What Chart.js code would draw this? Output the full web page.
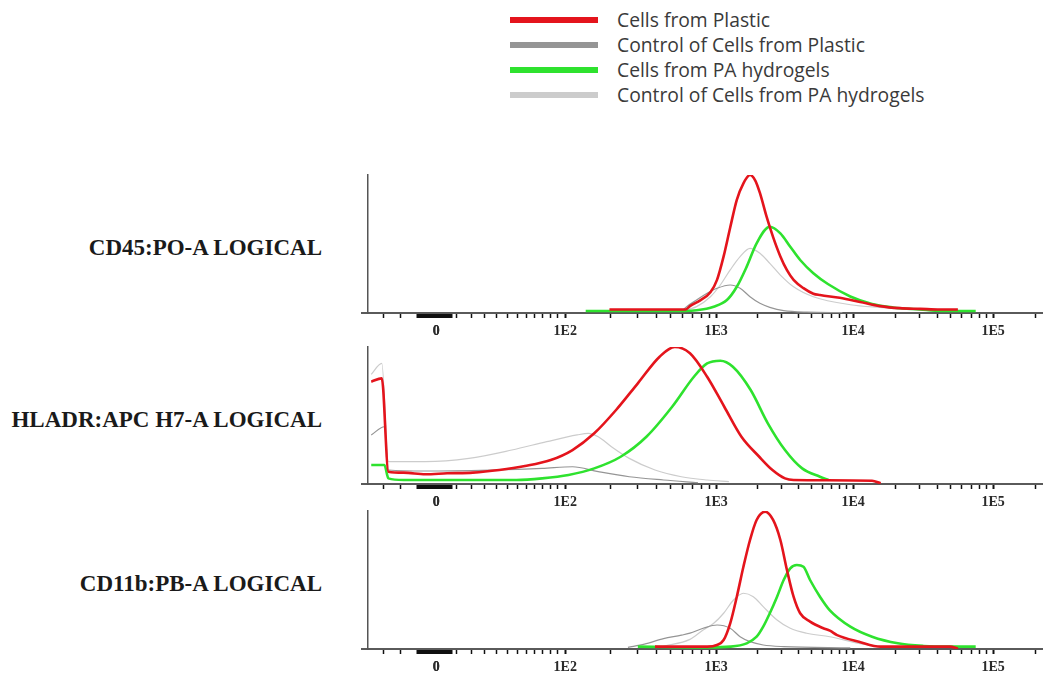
<!DOCTYPE html>
<html>
<head>
<meta charset="utf-8">
<script src="https://cdn.jsdelivr.net/npm/chart.js@4.4.1/dist/chart.umd.min.js"></script>
<style>
  body { margin: 0; background: #fff; width: 1043px; height: 677px; position: relative; overflow: hidden; }
  .legend { position: absolute; left: 510px; top: 7px; font-family: "Open Sans", sans-serif; font-size: 19.3px; color: #3a3a3a; }
  .legend-row { display: flex; align-items: center; height: 25px; }
  .legend-line { width: 88px; height: 6px; margin-right: 19px; }
  .panel-label { position: absolute; right: 721px; font-family: "Liberation Serif", serif; font-weight: bold;
                 font-size: 23px; color: #1a1a1a; white-space: nowrap; transform: translateY(-50%); }
  .panel { position: absolute; left: 340px; width: 703px; }
</style>
</head>
<body>
<div class="legend" id="legend"></div>
<div id="panels"></div>

<script>
// series names / colours (legend order)
const SERIES = ['Cells from Plastic', 'Control of Cells from Plastic', 'Cells from PA hydrogels', 'Control of Cells from PA hydrogels'];
const COLORS = ['#e4141c', '#959595', '#2ee22e', '#cccccc'];
const WIDTHS = [2.6, 1.2, 2.6, 1.2];
const ORDER = [0, 2, 1, 3];

// x axis: logicle display channels (0 - 1024)
const MAJOR_TICKS = [104.5, 300, 528.7, 736.2, 948.3];
const MAJOR_LABELS = ['0', '1E2', '1E3', '1E4', '1E5'];
const LINEAR_TICKS = [24, 50, 135, 158, 178, 196, 212, 227, 241, 254, 266, 277, 288];

const PANEL_TITLES = ['CD45:PO-A LOGICAL', 'HLADR:APC H7-A LOGICAL', 'CD11b:PB-A LOGICAL'];

// histograms: [channel, % of max]
const cd45Plastic = [[367,2.5],[482,2.5],[489,5],[504,9],[520,15],[530,24],[540,41],[550,62],[560,82],[570,94],[580,100],[588,96],[595,87],[605,70],[615,55],[626,41],[636,31],[646,24],[661,18],[676,14],[686,13],[716,11],[747,8],[777,5],[807,3.5],[838,3],[868,2.5],[895,2.5]];
const cd45PlasticCtrl = [[476,1],[484,4.6],[499,9.4],[515,14.3],[530,17.9],[550,20.3],[565,17.9],[580,11.8],[595,7],[610,4.1],[631,1.7],[666,0.6],[720,0.3]];
const cd45Hydrogel = [[331,1.5],[482,1.5],[499,2],[525,4.6],[545,9.4],[560,19],[575,33.6],[590,50.5],[610,62.5],[626,57.7],[641,48],[656,38.4],[676,28.8],[698,21],[732,12],[765,6.5],[797,4],[838,2.5],[870,1.5],[922,1.5]];
const cd45HydrogelCtrl = [[474,1],[499,4.6],[520,11.8],[535,20.3],[550,31.2],[565,40.8],[580,46.9],[595,43.3],[610,36],[626,27.5],[646,19],[676,11.8],[732,6],[777,4],[838,2],[898,1.2]];

const hladrPlastic = [[6,74.7],[22,77.1],[32,9],[55,8.3],[88,7.1],[121,7.8],[160,8.3],[200,10.2],[239,13.1],[278,17.5],[311,24.8],[344,37],[377,54],[410,73.5],[443,92.9],[466,100],[489,95.4],[515,78.3],[541,56.4],[567,34.5],[594,19.9],[614,10.2],[633,4.1],[646,2.9],[765,2.4],[778,0.5]];
const hladrPlasticCtrl = [[6,35.8],[26,41.8],[32,10.2],[88,9.5],[187,10.2],[265,11.4],[311,12.6],[350,9],[397,5.3],[449,2.9],[501,1]];
const hladrHydrogel = [[6,13.9],[26,13.9],[32,4.1],[55,2.9],[226,2.9],[265,4.1],[305,6.6],[344,11.4],[384,19.9],[423,34.5],[462,56.4],[495,78.3],[515,88],[535,90],[554,85.6],[581,68.6],[607,44.3],[633,24.8],[659,11.4],[686,5.3],[699,2.9]];
const hladrHydrogelCtrl = [[6,80],[22,88],[32,16.3],[88,16.3],[154,18.7],[219,24.8],[272,30.9],[318,35.8],[335,37],[350,34.5],[370,27.2],[397,18.7],[436,10.2],[476,5.3],[515,2.9],[548,1.7]];

const cd11bPlastic = [[436,1.7],[489,1.7],[515,1.7],[530,2.9],[540,6.5],[550,18.6],[560,37.9],[570,59.6],[580,79],[590,93.5],[603,99.5],[615,93.5],[626,79],[636,57.2],[646,37.9],[656,25.9],[671,19.8],[691,15],[701,13.3],[712,10.1],[745,5.3],[778,1.7],[883,1.7],[895,0.3]];
const cd11bPlasticCtrl = [[395,1.2],[420,3.5],[449,7.5],[476,10],[489,11.5],[509,15],[530,17.4],[550,15],[565,8.9],[580,5.3],[600,2.9],[631,1.7],[732,0.8]];
const cd11bHydrogel = [[410,1.7],[515,1.2],[550,1.7],[575,4.1],[590,8.9],[600,16.2],[610,25.9],[621,37.9],[631,50],[641,58.5],[651,60.9],[661,59.6],[671,50],[686,37.9],[701,28],[732,16.2],[765,8.9],[804,4.1],[843,2.2],[880,1.7],[922,1.7]];
const cd11bHydrogelCtrl = [[449,2],[489,7],[509,13.8],[525,18.6],[540,25.9],[555,35.5],[570,40.4],[585,37.9],[600,30.7],[621,21],[641,15],[666,11.4],[701,8.9],[745,4.1],[777,1.7]];

const PANEL_DATA = [
  [cd45Plastic, cd45PlasticCtrl, cd45Hydrogel, cd45HydrogelCtrl],
  [hladrPlastic, hladrPlasticCtrl, hladrHydrogel, hladrHydrogelCtrl],
  [cd11bPlastic, cd11bPlasticCtrl, cd11bHydrogel, cd11bHydrogelCtrl],
];

// page layout: plot top / baseline in px
const LAYOUT = [{ top: 175, base: 313 }, { top: 347, base: 484 }, { top: 511, base: 649 }];
const PAD_TOP = 6, AXIS_H = 30;

// tick positions: logicle linear region + log decades
function buildTickValues() {
  const vals = [...MAJOR_TICKS, ...LINEAR_TICKS];
  for (let v = 76; v <= 127; v += 1.5) vals.push(v);          // dense band round zero
  for (let i = 1; i < MAJOR_TICKS.length - 1; i++) {
    const span = MAJOR_TICKS[i + 1] - MAJOR_TICKS[i];
    for (let k = 2; k <= 9; k++) vals.push(MAJOR_TICKS[i] + Math.log10(k) * span);
  }
  vals.push(948.3 + Math.log10(2) * 212);
  return vals.sort((a, b) => a - b);
}
const TICK_VALUES = buildTickValues();

// legend
document.getElementById('legend').innerHTML = SERIES.map((s, i) => `
  <div class="legend-row"><div class="legend-line" style="background:${COLORS[i]};"></div><span>${s}</span></div>
`).join('');

const panelsEl = document.getElementById('panels');

PANEL_DATA.forEach((sets, p) => {
  const L = LAYOUT[p];
  const h = L.base - L.top + PAD_TOP + AXIS_H;

  const label = document.createElement('div');
  label.className = 'panel-label';
  label.style.top = ((L.top + L.base) / 2 + 4) + 'px';
  label.textContent = PANEL_TITLES[p];
  document.body.appendChild(label);

  const wrap = document.createElement('div');
  wrap.className = 'panel';
  wrap.style.top = (L.top - PAD_TOP) + 'px';
  wrap.style.height = h + 'px';
  const cv = document.createElement('canvas');
  cv.width = 703; cv.height = h;
  wrap.appendChild(cv);
  panelsEl.appendChild(wrap);

  new Chart(cv, {
    type: 'line',
    data: {
      datasets: sets.map((d, i) => ({
        label: SERIES[i],
        data: d.map(([x, y]) => ({ x, y })),
        borderColor: COLORS[i],
        borderWidth: WIDTHS[i],
        order: ORDER[i],
        pointRadius: 0,
        fill: false,
        cubicInterpolationMode: 'monotone',
        borderJoinStyle: 'round',
      }))
    },
    options: {
      responsive: false,
      devicePixelRatio: 1,
      animation: false,
      layout: { padding: { top: PAD_TOP, left: 22, right: 0, bottom: 0 } },
      plugins: { legend: { display: false }, tooltip: { enabled: false } },
      scales: {
        x: {
          type: 'linear', min: -8, max: 1024,
          afterBuildTicks: s => { s.ticks = TICK_VALUES.map(v => ({ value: v })); },
          afterFit: s => { s.height = AXIS_H; },
          border: { color: '#5a5a5a', width: 2 },
          grid: {
            drawOnChartArea: false, drawTicks: true, tickLength: 5, tickColor: '#111',
            tickWidth: ctx => {
              const v = ctx.tick && ctx.tick.value;
              if (MAJOR_TICKS.includes(v)) return 2;
              return (v >= 76 && v <= 127) ? 2 : 1.5;
            },
          },
          ticks: {
            autoSkip: false, maxRotation: 0, minRotation: 0, padding: 5,
            color: '#2a2a2a', font: { family: 'Liberation Serif', size: 14, weight: 'bold' },
            callback: v => { const i = MAJOR_TICKS.indexOf(v); return i >= 0 ? MAJOR_LABELS[i] : ''; }
          }
        },
        y: {
          min: 0, max: 100,
          position: { x: 0 },
          afterFit: s => { s.width = 0; },
          border: { color: '#555', width: 1.5 },
          grid: { display: false, drawTicks: false },
          ticks: { display: false }
        }
      }
    }
  });
});
</script>
</body>
</html>
